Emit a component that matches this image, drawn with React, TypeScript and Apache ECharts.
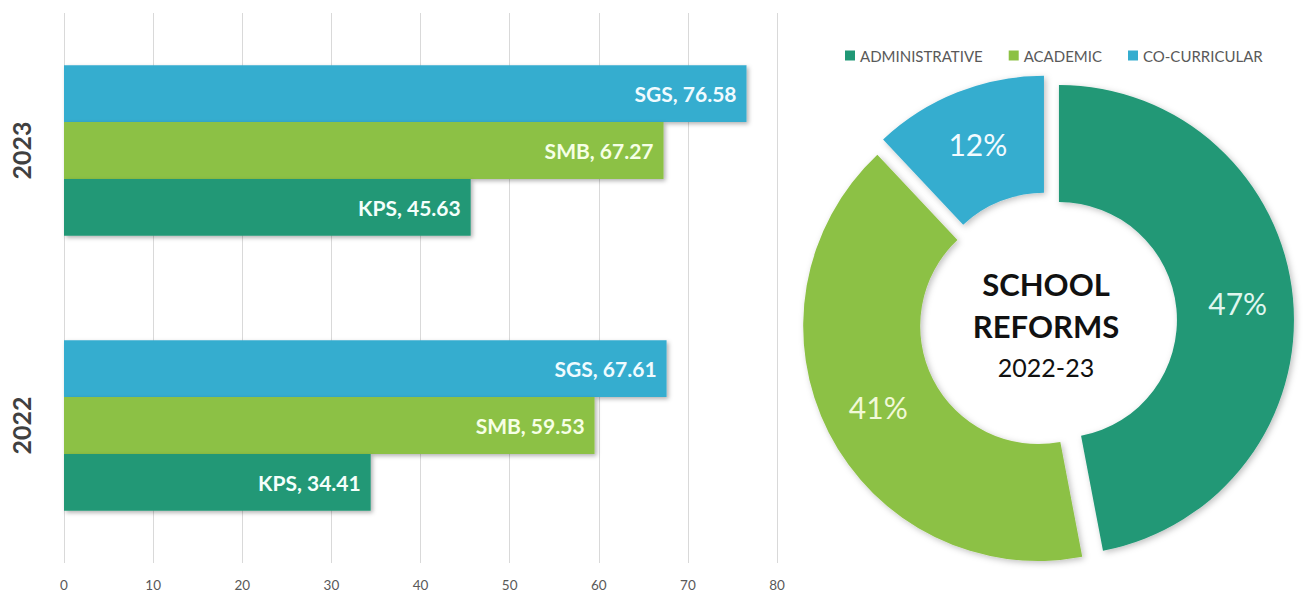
import React, { useEffect, useRef } from "react";
import * as echarts from "echarts";

const years = ["2022", "2023"];
const schools = ["KPS", "SMB", "SGS"];
const kpsValues = [34.41, 45.63];
const smbValues = [59.53, 67.27];
const sgsValues = [67.61, 76.58];
const xTicks = { min: 0, max: 80, interval: 10 };

const reformTypes = ["ADMINISTRATIVE", "ACADEMIC", "CO-CURRICULAR"];
const reformShares = [47, 41, 12];

const colors = ["#209876", "#8cc144", "#35adcf"];
const barLabelColors = ["#f4fffb", "#f6ffe6", "#f0fbff"];
const pieLabelColors = ["#dff6ee", "#f1f9d8", "#f2fbff"];
const FONT = "Lato, 'Open Sans', sans-serif";

export default function App() {
  const ref = useRef<HTMLDivElement>(null);
  useEffect(() => {
    if (!ref.current) return;
    const chart = echarts.init(ref.current, null, { renderer: "svg" });
    const barValues = [kpsValues, smbValues, sgsValues];
    // ECharts stacks horizontal bars from the top, so draw SGS first to keep KPS at the bottom
    const order = [2, 1, 0];
    const barSeries = order.map((i) => ({
      name: schools[i],
      type: "bar",
      data: barValues[i],
      barGap: "0%",
      barCategoryGap: "38%",
      itemStyle: {
        color: colors[i],
        shadowBlur: 4,
        shadowOffsetX: 2,
        shadowOffsetY: 2,
        shadowColor: "rgba(0,0,0,0.3)",
      },
      label: {
        show: true,
        position: "insideRight",
        distance: 10,
        color: barLabelColors[i],
        fontFamily: FONT,
        fontWeight: "bold",
        fontSize: 21,
        formatter: (p: any) => `${p.seriesName}, ${Number(p.value).toFixed(2)}`,
      },
      emphasis: { disabled: true },
    }));
    chart.setOption({
      animation: false,
      textStyle: { fontFamily: FONT },
      grid: { left: 64, right: 529, top: 13, bottom: 32, containLabel: false },
      xAxis: {
        type: "value",
        min: xTicks.min,
        max: xTicks.max,
        interval: xTicks.interval,
        axisLine: { show: false },
        axisTick: { show: false },
        axisLabel: { color: "#595959", fontSize: 13.5, margin: 15, fontFamily: FONT },
        splitLine: { show: true, lineStyle: { color: "#d9d9d9", width: 1 } },
      },
      yAxis: {
        type: "category",
        data: years,
        axisLine: { show: false },
        axisTick: { show: false },
        axisLabel: {
          rotate: 90,
          color: "#404040",
          fontSize: 25,
          fontWeight: "bold",
          fontFamily: FONT,
          margin: 31,
        },
      },
      legend: {
        data: reformTypes,
        left: 840,
        top: 43,
        icon: "rect",
        itemWidth: 10,
        itemHeight: 10,
        itemGap: 26,
        textStyle: { color: "#595959", fontSize: 15, fontFamily: FONT },
        selectedMode: false,
      },
      series: [
        ...barSeries,
        {
          type: "pie",
          center: [1048, 321],
          radius: [118, 235],
          startAngle: 90,
          clockwise: true,
          selectedMode: "multiple",
          selectedOffset: 11,
          label: {
            show: true,
            position: "inside",
            fontSize: 30,
            fontFamily: FONT,
            formatter: "{c}%",
          },
          labelLine: { show: false },
          emphasis: { disabled: true },
          data: reformTypes.map((name, i) => ({
            name,
            value: reformShares[i],
            selected: true,
            itemStyle: {
              color: colors[i],
              shadowBlur: 6,
              shadowOffsetX: 2,
              shadowOffsetY: 2,
              shadowColor: "rgba(0,0,0,0.25)",
            },
            label: { color: pieLabelColors[i] },
          })),
        },
      ],
      graphic: [
        {
          type: "text",
          x: 1046,
          y: 284,
          style: {
            text: "SCHOOL",
            fontSize: 31,
            fontWeight: "bold",
            fontFamily: FONT,
            fill: "#111111",
            textAlign: "center",
            textVerticalAlign: "middle",
          },
        },
        {
          type: "text",
          x: 1046,
          y: 326,
          style: {
            text: "REFORMS",
            fontSize: 31,
            fontWeight: "bold",
            fontFamily: FONT,
            fill: "#111111",
            textAlign: "center",
            textVerticalAlign: "middle",
          },
        },
        {
          type: "text",
          x: 1046,
          y: 367,
          style: {
            text: "2022-23",
            fontSize: 25,
            fontFamily: FONT,
            fill: "#111111",
            textAlign: "center",
            textVerticalAlign: "middle",
          },
        },
      ],
    });
    return () => chart.dispose();
  }, []);
  return (
    <div
      ref={ref}
      style={{ position: "fixed", left: 0, top: 0, width: 1306, height: 595, background: "#ffffff" }}
    />
  );
}
